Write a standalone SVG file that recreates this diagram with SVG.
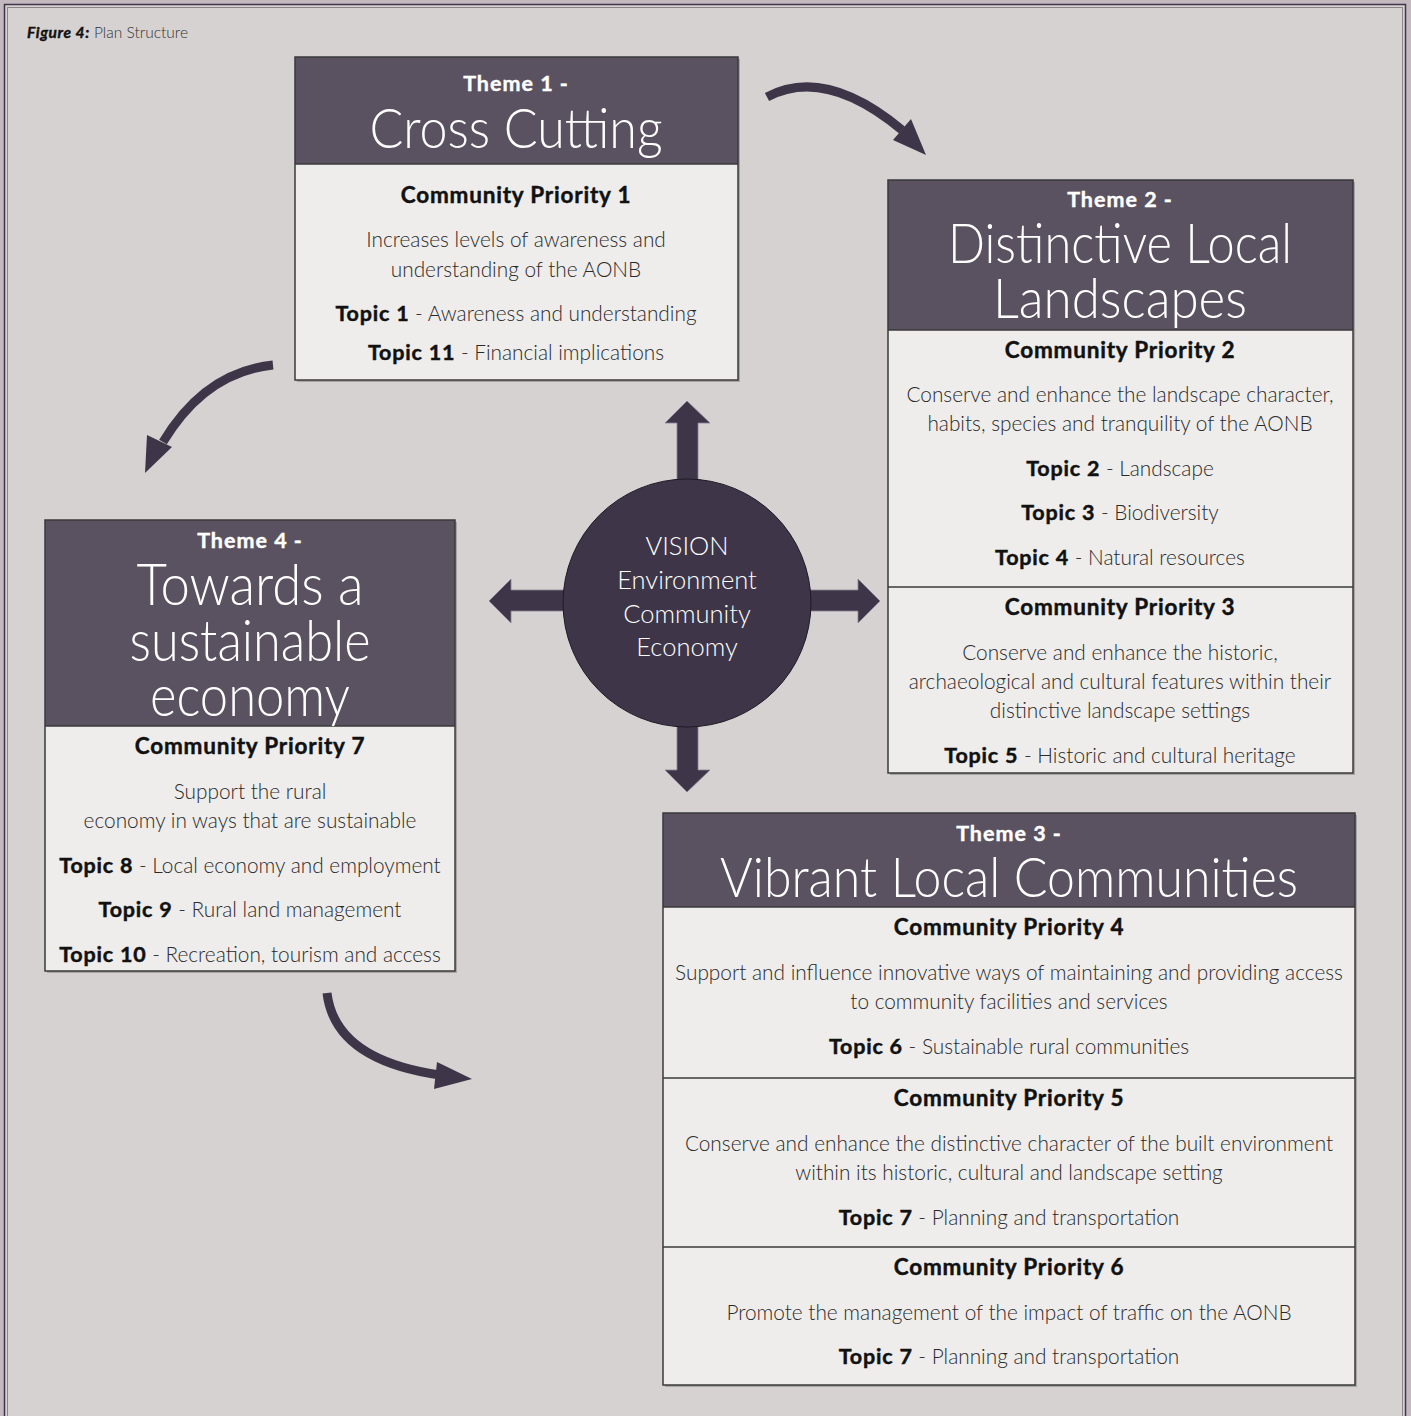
<svg xmlns="http://www.w3.org/2000/svg" width="1411" height="1416" viewBox="0 0 1411 1416">
  <style>
    .hdr { fill: #5a5260; }
    .body { fill: #eeedeb; }
    .frame { fill: none; stroke: #3a3a3a; stroke-width: 1.5; }
    .shadow { fill: #a9a4a6; }
    .div { stroke: #3a3a3a; stroke-width: 1.5; }
    text { font-family: Lato, "Open Sans", "Liberation Sans", sans-serif; text-anchor: middle; }
    .theme { font-size: 21.5px; font-weight: 700; fill: #ffffff; letter-spacing: 1px; stroke: #ffffff; stroke-width: 0.4; }
    .title { font-size: 55px; font-weight: 300; fill: #ffffff; }
    .cp { font-size: 22.5px; font-weight: 700; fill: #111111; letter-spacing: 0.8px; stroke: #111111; stroke-width: 0.45; }
    .txt { font-size: 20.8px; font-weight: 300; fill: #2a2a2a; }
    .b { font-weight: 700; fill: #111111; letter-spacing: 0.8px; stroke: #111111; stroke-width: 0.45; font-size: 21.5px; }
    .vision { font-size: 25.5px; font-weight: 300; fill: #ffffff; }
    .conn { fill: none; stroke: #3e3648; stroke-width: 9; }
    .head { fill: #3e3648; }
  </style>

  <!-- page frame -->
  <rect x="0" y="0" width="1411" height="1416" fill="#c5b9c0"/>
  <rect x="4.5" y="4.5" width="1401" height="1420" fill="#d6d2d2" stroke="#3d3648" stroke-width="1.5"/>
  <rect x="7.5" y="7.5" width="1395" height="1420" fill="none" stroke="#8c8689" stroke-width="1"/>

  <text x="27" y="38" style="text-anchor:start;font-size:15.5px;">
    <tspan font-weight="700" font-style="italic" fill="#111" stroke="#111" stroke-width="0.4" letter-spacing="0.6">Figure 4:</tspan><tspan fill="#333" font-weight="300"> Plan Structure</tspan>
  </text>

  <!-- Theme 1 -->
  <g id="theme1">
    <rect class="shadow" x="297" y="59" width="443" height="323"/>
    <rect class="body" x="295" y="57" width="443" height="323"/>
    <rect class="hdr" x="295" y="57" width="443" height="107"/>
    <line class="div" x1="295" y1="164" x2="738" y2="164"/>
    <rect class="frame" x="295" y="57" width="443" height="323"/>
    <text class="theme" x="516" y="91">Theme 1 -</text>
    <text class="title" x="516" y="148" textLength="293" lengthAdjust="spacingAndGlyphs">Cross Cutting</text>
    <text class="cp" x="516" y="203">Community Priority 1</text>
    <text class="txt" x="516" y="247">Increases levels of awareness and</text>
    <text class="txt" x="516" y="277">understanding of the AONB</text>
    <text class="txt" x="516" y="321"><tspan class="b">Topic 1</tspan> - Awareness and understanding</text>
    <text class="txt" x="516" y="360"><tspan class="b">Topic 11</tspan> - Financial implications</text>
  </g>

  <!-- Theme 2 -->
  <g id="theme2">
    <rect class="shadow" x="890" y="182" width="465" height="593"/>
    <rect class="body" x="888" y="180" width="465" height="593"/>
    <rect class="hdr" x="888" y="180" width="465" height="150"/>
    <line class="div" x1="888" y1="330" x2="1353" y2="330"/>
    <line class="div" x1="888" y1="587" x2="1353" y2="587"/>
    <rect class="frame" x="888" y="180" width="465" height="593"/>
    <text class="theme" x="1120" y="207">Theme 2 -</text>
    <text class="title" style="font-size:56px"><tspan x="1120" y="263" textLength="344" lengthAdjust="spacingAndGlyphs">Distinctive Local</tspan><tspan x="1120" y="318" textLength="254" lengthAdjust="spacingAndGlyphs">Landscapes</tspan></text>
    <text class="cp" x="1120" y="358">Community Priority 2</text>
    <text class="txt" x="1120" y="402">Conserve and enhance the landscape character,</text>
    <text class="txt" x="1120" y="431">habits, species and tranquility of the AONB</text>
    <text class="txt" x="1120" y="476"><tspan class="b">Topic 2</tspan> - Landscape</text>
    <text class="txt" x="1120" y="520"><tspan class="b">Topic 3</tspan> - Biodiversity</text>
    <text class="txt" x="1120" y="565"><tspan class="b">Topic 4</tspan> - Natural resources</text>
    <text class="cp" x="1120" y="615">Community Priority 3</text>
    <text class="txt" x="1120" y="660">Conserve and enhance the historic,</text>
    <text class="txt" x="1120" y="689">archaeological and cultural features within their</text>
    <text class="txt" x="1120" y="718">distinctive landscape settings</text>
    <text class="txt" x="1120" y="763"><tspan class="b">Topic 5</tspan> - Historic and cultural heritage</text>
  </g>

  <!-- Theme 3 -->
  <g id="theme3">
    <rect class="shadow" x="665" y="815" width="692" height="572"/>
    <rect class="body" x="663" y="813" width="692" height="572"/>
    <rect class="hdr" x="663" y="813" width="692" height="94"/>
    <line class="div" x1="663" y1="907" x2="1355" y2="907"/>
    <line class="div" x1="663" y1="1078" x2="1355" y2="1078"/>
    <line class="div" x1="663" y1="1247" x2="1355" y2="1247"/>
    <rect class="frame" x="663" y="813" width="692" height="572"/>
    <text class="theme" x="1009" y="841">Theme 3 -</text>
    <text class="title" x="1009" y="897" style="font-size:56px" textLength="578" lengthAdjust="spacingAndGlyphs">Vibrant Local Communities</text>
    <text class="cp" x="1009" y="935">Community Priority 4</text>
    <text class="txt" x="1009" y="980">Support and influence innovative ways of maintaining and providing access</text>
    <text class="txt" x="1009" y="1009">to community facilities and services</text>
    <text class="txt" x="1009" y="1054"><tspan class="b">Topic 6</tspan> - Sustainable rural communities</text>
    <text class="cp" x="1009" y="1106">Community Priority 5</text>
    <text class="txt" x="1009" y="1151">Conserve and enhance the distinctive character of the built environment</text>
    <text class="txt" x="1009" y="1180">within its historic, cultural and landscape setting</text>
    <text class="txt" x="1009" y="1225"><tspan class="b">Topic 7</tspan> - Planning and transportation</text>
    <text class="cp" x="1009" y="1275">Community Priority 6</text>
    <text class="txt" x="1009" y="1320">Promote the management of the impact of traffic on the AONB</text>
    <text class="txt" x="1009" y="1364"><tspan class="b">Topic 7</tspan> - Planning and transportation</text>
  </g>

  <!-- Theme 4 -->
  <g id="theme4">
    <rect class="shadow" x="47" y="522" width="410" height="451"/>
    <rect class="body" x="45" y="520" width="410" height="451"/>
    <rect class="hdr" x="45" y="520" width="410" height="206"/>
    <line class="div" x1="45" y1="726" x2="455" y2="726"/>
    <rect class="frame" x="45" y="520" width="410" height="451"/>
    <text class="theme" x="250" y="548">Theme 4 -</text>
    <text class="title" style="font-size:57px"><tspan x="250" y="605" textLength="227" lengthAdjust="spacingAndGlyphs">Towards a</tspan><tspan x="250" y="661" textLength="241" lengthAdjust="spacingAndGlyphs">sustainable</tspan><tspan x="250" y="716" textLength="200" lengthAdjust="spacingAndGlyphs">economy</tspan></text>
    <text class="cp" x="250" y="754">Community Priority 7</text>
    <text class="txt" x="250" y="799">Support the rural</text>
    <text class="txt" x="250" y="828">economy in ways that are sustainable</text>
    <text class="txt" x="250" y="873"><tspan class="b">Topic 8</tspan> - Local economy and employment</text>
    <text class="txt" x="250" y="917"><tspan class="b">Topic 9</tspan> - Rural land management</text>
    <text class="txt" x="250" y="962"><tspan class="b">Topic 10</tspan> - Recreation, tourism and access</text>
  </g>

  <!-- central vision hub with four outward arrows -->
  <g id="vision">
    <path class="head" stroke="#8a8290" stroke-width="0.8" d="M677,480 L677,423 L665,423 L687,401 L710,423 L698,423 L698,480 Z"/>
    <path class="head" stroke="#8a8290" stroke-width="0.8" d="M677,725 L677,770 L665,770 L687,792 L710,770 L698,770 L698,725 Z"/>
    <path class="head" stroke="#8a8290" stroke-width="0.8" d="M566,590 L511,590 L511,579 L489,601 L511,623 L511,611 L566,611 Z"/>
    <path class="head" stroke="#8a8290" stroke-width="0.8" d="M808,590 L858,590 L858,579 L880,601 L858,623 L858,611 L808,611 Z"/>
    <circle cx="687" cy="603" r="124" fill="#3e3648" stroke="#1e1a24" stroke-width="1"/>
    <text class="vision" x="687" y="555">VISION</text>
    <text class="vision" x="687" y="589">Environment</text>
    <text class="vision" x="687" y="623">Community</text>
    <text class="vision" x="687" y="656">Economy</text>
  </g>

  <!-- cycle connectors between themes -->
  <g id="connectors">
    <path class="conn" d="M767,97 Q825,66 902,130"/>
    <polygon class="head" points="893,140 911,119 926,155"/>
    <path class="conn" d="M273,365 Q205,372 163,442"/>
    <polygon class="head" points="147,435 172,447 145,473"/>
    <path class="conn" d="M327,993 Q335,1060 440,1075"/>
    <polygon class="head" points="437,1062 434,1089 472,1079"/>
  </g>
</svg>
